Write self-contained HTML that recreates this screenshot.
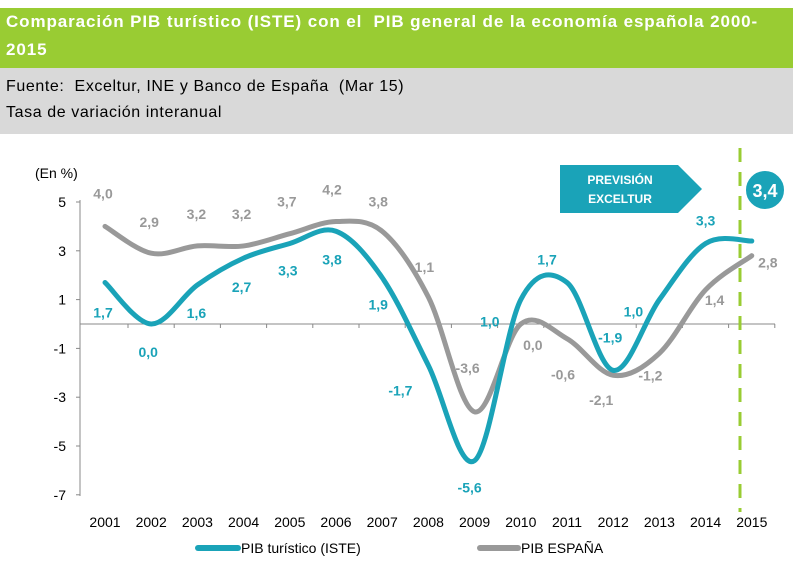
<!DOCTYPE html>
<html><head><meta charset="utf-8"><style>
body{margin:0;width:802px;height:565px;background:#fff;font-family:"Liberation Sans",sans-serif;overflow:hidden;position:relative}
.hdr{position:absolute;left:0;top:8px;width:793px;height:60px;background:#99cc33;color:#fff;font-weight:bold;font-size:17px;letter-spacing:0.9px;line-height:28px;padding-left:6px;box-sizing:border-box}
.sub{position:absolute;left:0;top:68px;width:793px;height:66px;background:#d9d9d9;color:#000;font-size:16px;letter-spacing:0.6px;line-height:26px;padding:6px 0 0 6px;box-sizing:border-box}
svg{position:absolute;left:0;top:0}
</style></head><body>
<div class="hdr">Comparación PIB turístico (ISTE) con el&nbsp; PIB general de la economía española 2000-<br>2015</div>
<div class="sub">Fuente:&nbsp; Exceltur, INE y Banco de España&nbsp; (Mar 15)<br>Tasa de variación interanual</div>
<svg id="c" width="802" height="565"></svg>
<script>
const years=['2001','2002','2003','2004','2005','2006','2007','2008','2009','2010','2011','2012','2013','2014','2015'];
const turismo=[1.7,0.0,1.6,2.7,3.3,3.8,1.9,-1.7,-5.6,1.0,1.7,-1.9,1.0,3.3,3.4];
const espana=[4.0,2.9,3.2,3.2,3.7,4.2,3.8,1.1,-3.6,0.0,-0.6,-2.1,-1.2,1.4,2.8];
const yTicks=[5,3,1,-1,-3,-5,-7];
const tDx=[-2,-3,-1,-2,-2,-4,-4,-28,-5,-31,-20,-3,-26,0];
const tDy=[30,28,28,29,27,28,27,25,27,22,-23,-33,12,-23];
const gDx=[-2,-2,-1,-2,-3,-4,-4,-4,-7,12,-4,-12,-9,9,16];
const gDy=[-33,-31,-32,-32,-32,-32,-30,-30,-44,21,36,25,22,10,7];
const NS='http://www.w3.org/2000/svg';
const svg=document.getElementById('c');
const X=i=>105+i*46.2;
const Y=v=>202+(5-v)*24.4;
function el(t,a,txt){const e=document.createElementNS(NS,t);for(const k in a)e.setAttribute(k,a[k]);if(txt!=null)e.textContent=txt;svg.appendChild(e);return e;}
let e;
e=el('line',{x1:80,y1:200,x2:80,y2:496,stroke:'#888'});


e=el('line',{x1:80,y1:Y(0),x2:775,y2:Y(0),stroke:'#888'});


yTicks.forEach(v=>{
 el('line',{x1:76,y1:Y(v),x2:80,y2:Y(v),stroke:'#888'});
 e=el('text',{x:66,y:Y(v)+5,'text-anchor':'end','font-size':14,fill:'#000'},String(v));
 
 
});
years.forEach((y,i)=>{
 el('line',{x1:X(i)+23,y1:Y(0),x2:X(i)+23,y2:Y(0)+4,stroke:'#888'});
 e=el('text',{x:X(i),y:527,'text-anchor':'middle','font-size':14,fill:'#000'},y);
 
 
});
e=el('text',{x:35,y:178,'font-size':14,fill:'#000'},'(En %)');


function path(vals){
 const p=vals.map((v,i)=>[X(i),Y(v)]);
 let d='M'+p[0][0]+','+p[0][1];
 for(let i=0;i<p.length-1;i++){
  const p0=p[i-1]||p[i],p1=p[i],p2=p[i+1],p3=p[i+2]||p2;
  d+=' C'+(p1[0]+(p2[0]-p0[0])/6)+','+(p1[1]+(p2[1]-p0[1])/6)+' '+(p2[0]-(p3[0]-p1[0])/6)+','+(p2[1]-(p3[1]-p1[1])/6)+' '+p2[0]+','+p2[1];
 }
 return d;
}
e=el('path',{d:path(espana),fill:'none',stroke:'#999','stroke-width':5,'stroke-linecap':'round'});


e=el('path',{d:path(turismo),fill:'none',stroke:'#1aa3b8','stroke-width':5,'stroke-linecap':'round'});


const fmt=v=>v.toFixed(1).replace('.',',');
espana.forEach((v,i)=>{
 e=el('text',{x:X(i)+gDx[i],y:Y(v)+gDy[i]+5,'text-anchor':'middle','font-size':14,'font-weight':'bold',fill:'#999'},fmt(v));
 
 
});
turismo.forEach((v,i)=>{
 if(i>=tDx.length)return;
 e=el('text',{x:X(i)+tDx[i],y:Y(v)+tDy[i]+5,'text-anchor':'middle','font-size':14,'font-weight':'bold',fill:'#1aa3b8'},fmt(v));
 
 
});
e=el('line',{x1:740,y1:148,x2:740,y2:512,stroke:'#99cc33','stroke-width':3,'stroke-dasharray':'14,10'});


e=el('polygon',{points:'560,165 678,165 702,189 678,213 560,213',fill:'#1aa3b8'});


el('text',{x:620,y:184,'text-anchor':'middle','font-size':12,'font-weight':'bold',fill:'#fff'},'PREVISIÓN');
el('text',{x:620,y:203,'text-anchor':'middle','font-size':12,'font-weight':'bold',fill:'#fff'},'EXCELTUR');
e=el('circle',{cx:765,cy:190,r:20,fill:'#1aa3b8',stroke:'#fff','stroke-width':2});


el('text',{x:765,y:197,'text-anchor':'middle','font-size':18,'font-weight':'bold',fill:'#fff'},fmt(turismo[14]));
e=el('line',{x1:198,y1:548,x2:238,y2:548,stroke:'#1aa3b8','stroke-width':6,'stroke-linecap':'round'});


el('text',{x:241,y:553,'font-size':14,fill:'#000'},'PIB turístico (ISTE)');
e=el('line',{x1:480,y1:548,x2:518,y2:548,stroke:'#999','stroke-width':6,'stroke-linecap':'round'});


el('text',{x:521,y:553,'font-size':14,fill:'#000'},'PIB ESPAÑA');
</script>
</body></html>
